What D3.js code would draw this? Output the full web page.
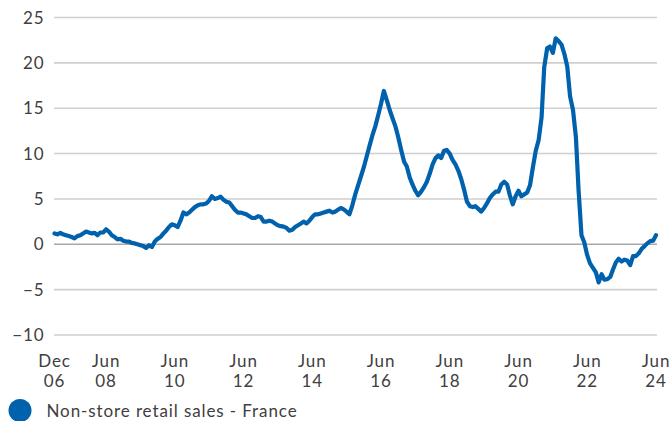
<!DOCTYPE html>
<html>
<head>
<meta charset="utf-8">
<script src="https://cdn.jsdelivr.net/npm/d3@7"></script>
<style>
  html, body { margin: 0; padding: 0; background: #fff; }
  svg text { font-family: Lato, "Open Sans", sans-serif; fill: #404040; letter-spacing: 0.9px; }
</style>
</head>
<body>
<svg id="chart" width="670" height="421"></svg>
<script>
// Monthly values, Dec 2006 .. Jun 2024 (% y/y)
const startDate = new Date(2006, 11, 1);
const seriesName = "Non-store retail sales - France";
const values = [
  1.2, 1.1, 1.25, 1.1, 1.0, 0.9, 0.8, 0.66, 0.9, 1.0, 1.2, 1.4,
  1.3, 1.2, 1.25, 1.0, 1.3, 1.3, 1.65, 1.4, 1.0, 0.8, 0.55, 0.6,
  0.4, 0.3, 0.3, 0.15, 0.1, 0.0, -0.1, -0.2, -0.4, -0.1, -0.3, 0.3,
  0.6, 0.8, 1.2, 1.5, 1.9, 2.2, 2.1, 1.9, 2.6, 3.5, 3.3, 3.5,
  3.8, 4.1, 4.3, 4.4, 4.4, 4.5, 4.8, 5.3, 5.0, 5.1, 5.25, 4.9,
  4.7, 4.6, 4.2, 3.8, 3.5, 3.5, 3.4, 3.3, 3.1, 2.9, 2.9, 3.1,
  3.0, 2.5, 2.5, 2.6, 2.5, 2.3, 2.1, 2.0, 1.95, 1.8, 1.5, 1.6,
  1.9, 2.1, 2.3, 2.5, 2.3, 2.6, 3.0, 3.3, 3.3, 3.4, 3.5, 3.6,
  3.7, 3.5, 3.6, 3.8, 4.0, 3.85, 3.6, 3.3, 4.3, 5.5, 6.5, 7.5,
  8.5, 9.7, 10.9, 12.0, 13.0, 14.2, 15.5, 16.9, 15.9, 14.8, 13.9, 13.0,
  11.8, 10.4, 9.1, 8.6, 7.4, 6.6, 5.9, 5.4, 5.8, 6.3, 6.9, 7.8,
  8.8, 9.5, 9.8, 9.5, 10.3, 10.4, 10.0, 9.3, 8.8, 8.1, 7.2, 6.0,
  4.7, 4.2, 4.1, 4.2, 3.9, 3.6, 4.0, 4.5, 5.1, 5.5, 5.8, 5.8,
  6.6, 6.9, 6.6, 5.4, 4.4, 5.3, 5.9, 5.3, 5.5, 5.7, 6.5, 8.5,
  10.3, 11.5, 14.0, 19.5, 21.6, 21.8, 21.1, 22.7, 22.4, 22.0, 21.0, 19.6,
  16.3, 14.8, 11.8, 6.0, 1.0, 0.2, -1.2, -2.1, -2.6, -3.1, -4.2, -3.3,
  -3.9, -3.85, -3.6, -2.8, -2.0, -1.6, -1.9, -1.7, -1.8, -2.3, -1.3, -1.3,
  -1.0, -0.5, -0.2, 0.1, 0.35, 0.4, 1.0
];
const yTicks = [-10, -5, 0, 5, 10, 15, 20, 25];
const xTickDates = [[2006, 11], [2008, 5], [2010, 5], [2012, 5], [2014, 5], [2016, 5], [2018, 5], [2020, 5], [2022, 5], [2024, 5]];
const xTickLabels = [["Dec", "06"], ["Jun", "08"], ["Jun", "10"], ["Jun", "12"], ["Jun", "14"], ["Jun", "16"], ["Jun", "18"], ["Jun", "20"], ["Jun", "22"], ["Jun", "24"]];

const data = values.map((v, i) => ({ date: new Date(2006, 11 + i, 1), value: v }));

const svg = d3.select("#chart");
const x = d3.scaleTime()
  .domain([startDate, new Date(2024, 5, 1)])
  .range([54.5, 656]);
const y = d3.scaleLinear().domain([-10, 25]).range([335, 17.5]);

const gridLeft = 54, gridRight = 657;

// gridlines
svg.append("g").selectAll("line").data(yTicks).join("line")
  .attr("x1", gridLeft).attr("x2", gridRight)
  .attr("y1", d => y(d)).attr("y2", d => y(d))
  .attr("stroke", d => d === 0 ? "#a8a8a8" : "#cfcfcf")
  .attr("stroke-width", 1.6);

// y labels
svg.append("g").selectAll("text").data(yTicks).join("text")
  .attr("x", 44.5).attr("y", d => y(d) + 6)
  .attr("text-anchor", "end")
  .style("font-size", "17px")
  .text(d => d < 0 ? "\u2212" + Math.abs(d) : String(d));

// x labels (two rows)
const xPos = d => x(new Date(d[0], d[1], 1));
[0, 1].forEach(r => {
  svg.append("g").selectAll("text").data(xTickDates).join("text")
    .attr("x", d => xPos(d)).attr("y", r === 0 ? 366.5 : 386.5)
    .attr("text-anchor", "middle")
    .style("font-size", "17px")
    .text((d, i) => xTickLabels[i][r]);
});

// line
const line = d3.line().x(d => x(d.date)).y(d => y(d.value));
svg.append("path").datum(data)
  .attr("d", line)
  .attr("fill", "none")
  .attr("stroke", "#0061ad")
  .attr("stroke-width", 4.2)
  .attr("stroke-linejoin", "round")
  .attr("stroke-linecap", "round");

// legend
const lg = svg.append("g");
lg.append("circle").attr("cx", 20).attr("cy", 410.5).attr("r", 11.5).attr("fill", "#0061ad");
lg.append("text").attr("x", 46.5).attr("y", 416.5).style("font-size", "17px").text(seriesName);
</script>
</body>
</html>
